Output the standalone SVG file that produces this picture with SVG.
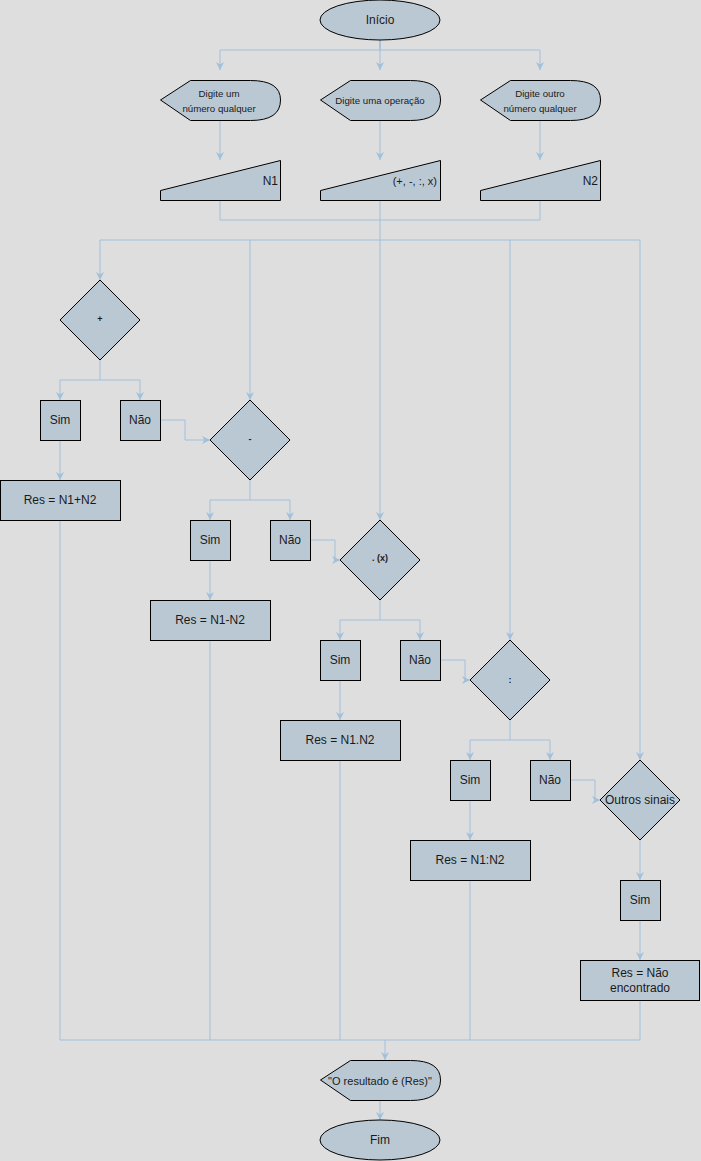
<svg xmlns="http://www.w3.org/2000/svg" width="701" height="1161" viewBox="0 0 701 1161">
<style>
.s{fill:#bac8d3;stroke:#000;stroke-width:1}
.c{fill:none;stroke:#a0c0dc;stroke-width:1}
text{font-family:"Liberation Sans",Arial,Helvetica,sans-serif;fill:#1a1a1a;text-anchor:middle}
.t12{font-size:12px}
.t10{font-size:9.7px}
.b{font-size:9px;font-weight:bold}
</style>
<defs>
<marker id="a" viewBox="0 0 10 10" refX="10" refY="5" markerWidth="8" markerHeight="8" markerUnits="userSpaceOnUse" orient="auto">
<path d="M0,0 L10,5 L0,10 L3,5 Z" fill="#a0c0dc"/>
</marker>
</defs>
<rect width="701" height="1161" fill="#dedede"/>
<g id="connectors">
<path class="c" d="M380,40 V50 H220 V70" marker-end="url(#a)"/>
<path class="c" d="M380,40 V70" marker-end="url(#a)"/>
<path class="c" d="M380,40 V50 H540 V70" marker-end="url(#a)"/>
<path class="c" d="M220,120 V160" marker-end="url(#a)"/>
<path class="c" d="M380,120 V160" marker-end="url(#a)"/>
<path class="c" d="M540,120 V160" marker-end="url(#a)"/>
<path class="c" d="M220,200 V220 H540 V200"/>
<path class="c" d="M380,200 V520" marker-end="url(#a)"/>
<path class="c" d="M380,240 H100 V280" marker-end="url(#a)"/>
<path class="c" d="M250,240 V400" marker-end="url(#a)"/>
<path class="c" d="M380,240 H510 V640" marker-end="url(#a)"/>
<path class="c" d="M510,240 H640 V760" marker-end="url(#a)"/>
<path class="c" d="M100,360 V380 H60 V400" marker-end="url(#a)"/>
<path class="c" d="M100,380 H140 V400" marker-end="url(#a)"/>
<path class="c" d="M60,440 V480" marker-end="url(#a)"/>
<path class="c" d="M160,420 H185 V440 H210" marker-end="url(#a)"/>
<path class="c" d="M250,480 V500 H210 V520" marker-end="url(#a)"/>
<path class="c" d="M250,500 H290 V520" marker-end="url(#a)"/>
<path class="c" d="M210,560 V600" marker-end="url(#a)"/>
<path class="c" d="M310,540 H335 V560 H340" marker-end="url(#a)"/>
<path class="c" d="M380,600 V620 H340 V640" marker-end="url(#a)"/>
<path class="c" d="M380,620 H420 V640" marker-end="url(#a)"/>
<path class="c" d="M340,680 V720" marker-end="url(#a)"/>
<path class="c" d="M440,660 H465 V680 H470" marker-end="url(#a)"/>
<path class="c" d="M510,720 V740 H470 V760" marker-end="url(#a)"/>
<path class="c" d="M510,740 H550 V760" marker-end="url(#a)"/>
<path class="c" d="M470,800 V840" marker-end="url(#a)"/>
<path class="c" d="M570,780 H595 V800 H600" marker-end="url(#a)"/>
<path class="c" d="M640,840 V880" marker-end="url(#a)"/>
<path class="c" d="M640,920 V960" marker-end="url(#a)"/>
<path class="c" d="M60,520 V1040 H640 V1000"/>
<path class="c" d="M210,640 V1040"/>
<path class="c" d="M340,760 V1040"/>
<path class="c" d="M470,880 V1040"/>
<path class="c" d="M385,1040 V1060" marker-end="url(#a)"/>
<path class="c" d="M380,1100 V1120" marker-end="url(#a)"/>
</g>
<g id="inicio">
<ellipse class="s" cx="380" cy="20" rx="60" ry="20"/>
<text class="t12" x="380" y="24">Início</text>
</g>
<g id="disp1">
<path class="s" d="M160.5,100 L190.5,80.5 L250.5,80.5 Q280.5,80.5 280.5,100 Q280.5,120.5 250.5,120.5 L190.5,120.5 Z"/>
<text class="t10" x="219" y="97">Digite um</text>
<text class="t10" x="219" y="112">número qualquer</text>
</g>
<g id="disp2">
<path class="s" d="M320.5,100 L350.5,80.5 L410.5,80.5 Q440.5,80.5 440.5,100 Q440.5,120.5 410.5,120.5 L350.5,120.5 Z"/>
<text class="t10" x="380" y="103.5">Digite uma operação</text>
</g>
<g id="disp3">
<path class="s" d="M480.5,100 L510.5,80.5 L570.5,80.5 Q600.5,80.5 600.5,100 Q600.5,120.5 570.5,120.5 L510.5,120.5 Z"/>
<text class="t10" x="540" y="97">Digite outro</text>
<text class="t10" x="540" y="112">número qualquer</text>
</g>
<g id="in1">
<path class="s" d="M160.5,190.5 L280.5,160.5 L280.5,200.5 L160.5,200.5 Z"/>
<text class="t12" x="278" y="184.5" style="text-anchor:end">N1</text>
</g>
<g id="in2">
<path class="s" d="M320.5,190.5 L440.5,160.5 L440.5,200.5 L320.5,200.5 Z"/>
<text x="437" y="184.5" style="text-anchor:end;font-size:11px">(+, -, :, x)</text>
</g>
<g id="in3">
<path class="s" d="M480.5,190.5 L600.5,160.5 L600.5,200.5 L480.5,200.5 Z"/>
<text class="t12" x="598" y="184.5" style="text-anchor:end">N2</text>
</g>
<g id="d-plus">
<path class="s" d="M100,280 L140,320 L100,360 L60,320 Z"/>
<text class="b" x="100" y="322">+</text>
</g>
<g id="sim1"><rect class="s" x="40.5" y="400.5" width="40" height="40"/><text class="t12" x="60" y="424">Sim</text></g>
<g id="nao1"><rect class="s" x="120.5" y="400.5" width="40" height="40"/><text class="t12" x="140" y="424">Não</text></g>
<g id="res1"><rect class="s" x="0.5" y="480.5" width="120" height="40"/><text class="t12" x="60" y="504">Res = N1+N2</text></g>
<g id="d-minus">
<path class="s" d="M250,400 L290,440 L250,480 L210,440 Z"/>
<text class="b" x="250" y="442">-</text>
</g>
<g id="sim2"><rect class="s" x="190.5" y="520.5" width="40" height="40"/><text class="t12" x="210" y="544">Sim</text></g>
<g id="nao2"><rect class="s" x="270.5" y="520.5" width="40" height="40"/><text class="t12" x="290" y="544">Não</text></g>
<g id="res2"><rect class="s" x="150.5" y="600.5" width="120" height="40"/><text class="t12" x="210" y="624">Res = N1-N2</text></g>
<g id="d-times">
<path class="s" d="M380,520 L420,560 L380,600 L340,560 Z"/>
<text class="b" x="380" y="561">. (x)</text>
</g>
<g id="sim3"><rect class="s" x="320.5" y="640.5" width="40" height="40"/><text class="t12" x="340" y="664">Sim</text></g>
<g id="nao3"><rect class="s" x="400.5" y="640.5" width="40" height="40"/><text class="t12" x="420" y="664">Não</text></g>
<g id="res3"><rect class="s" x="280.5" y="720.5" width="120" height="40"/><text class="t12" x="340" y="744">Res = N1.N2</text></g>
<g id="d-div">
<path class="s" d="M510,640 L550,680 L510,720 L470,680 Z"/>
<text class="b" x="510" y="683">:</text>
</g>
<g id="sim4"><rect class="s" x="450.5" y="760.5" width="40" height="40"/><text class="t12" x="470" y="784">Sim</text></g>
<g id="nao4"><rect class="s" x="530.5" y="760.5" width="40" height="40"/><text class="t12" x="550" y="784">Não</text></g>
<g id="res4"><rect class="s" x="410.5" y="840.5" width="120" height="40"/><text class="t12" x="470" y="864">Res = N1:N2</text></g>
<g id="d-outros">
<path class="s" d="M640,760 L680,800 L640,840 L600,800 Z"/>
<text class="t12" x="640" y="804">Outros sinais</text>
</g>
<g id="sim5"><rect class="s" x="620.5" y="880.5" width="40" height="40"/><text class="t12" x="640" y="904">Sim</text></g>
<g id="res5"><rect class="s" x="580.5" y="960.5" width="119" height="40"/>
<text class="t12" x="640" y="976.5">Res = Não</text>
<text class="t12" x="640" y="991.5">encontrado</text>
</g>
<g id="output">
<path class="s" d="M320.5,1080 L350.5,1060.5 L410.5,1060.5 Q440.5,1060.5 440.5,1080 Q440.5,1100.5 410.5,1100.5 L350.5,1100.5 Z"/>
<text x="380" y="1084.5" style="font-size:11px">"O resultado é (Res)"</text>
</g>
<g id="fim">
<ellipse class="s" cx="380" cy="1140" rx="60" ry="20"/>
<text class="t12" x="380" y="1144">Fim</text>
</g>
</svg>
